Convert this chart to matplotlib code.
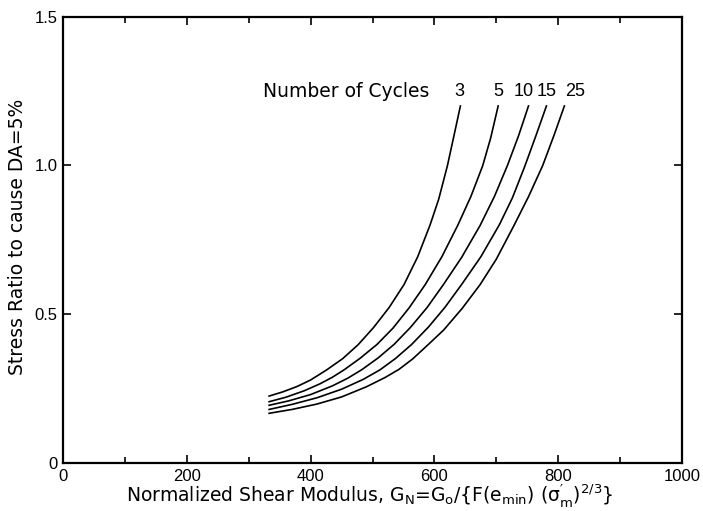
import matplotlib
matplotlib.use("Agg")
import matplotlib.pyplot as plt
from matplotlib.ticker import MultipleLocator

plt.rcParams['font.family'] = ['Liberation Sans', 'DejaVu Sans']
plt.rcParams['mathtext.default'] = 'regular'

# Curves: (G_N, stress ratio) for each number of cycles
cycles = ["3", "5", "10", "15", "25"]
gn_3 = [333, 355, 378, 400, 426, 452, 477, 502, 527, 551, 573, 593, 607, 621, 632, 642]
sr_3 = [0.225, 0.239, 0.257, 0.279, 0.313, 0.351, 0.398, 0.456, 0.523, 0.600, 0.693, 0.800, 0.887, 0.999, 1.104, 1.20]
gn_5 = [333, 360, 390, 415, 435, 454, 480, 507, 533, 559, 585, 612, 638, 659, 678, 691, 703]
sr_5 = [0.206, 0.221, 0.243, 0.266, 0.288, 0.313, 0.352, 0.398, 0.453, 0.521, 0.599, 0.693, 0.800, 0.896, 0.999, 1.093, 1.20]
gn_10 = [333, 365, 400, 435, 460, 483, 509, 535, 561, 588, 614, 644, 674, 697, 718, 736, 752]
sr_10 = [0.194, 0.209, 0.230, 0.259, 0.285, 0.314, 0.353, 0.399, 0.455, 0.522, 0.598, 0.691, 0.799, 0.896, 1.000, 1.100, 1.20]
gn_15 = [333, 370, 410, 450, 485, 512, 537, 563, 590, 617, 644, 675, 705, 726, 746, 764, 781]
sr_15 = [0.180, 0.197, 0.219, 0.248, 0.281, 0.313, 0.351, 0.398, 0.456, 0.523, 0.600, 0.693, 0.801, 0.891, 0.997, 1.100, 1.20]
gn_25 = [333, 370, 410, 450, 490, 520, 543, 565, 590, 615, 645, 674, 700, 729, 752, 775, 793, 810]
sr_25 = [0.167, 0.180, 0.198, 0.222, 0.256, 0.287, 0.315, 0.350, 0.398, 0.447, 0.520, 0.600, 0.685, 0.800, 0.895, 1.000, 1.100, 1.20]

series = [(gn_3, sr_3), (gn_5, sr_5), (gn_10, sr_10), (gn_15, sr_15), (gn_25, sr_25)]
label_x = [641, 703, 745, 781, 828]

xticks = [0, 200, 400, 600, 800, 1000]
yticks = [0, 0.5, 1.0, 1.5]
yticklabels = ["0", "0.5", "1.0", "1.5"]

fig = plt.figure(figsize=(7.03, 5.11), dpi=100)
ax = fig.add_axes([63/703, 48/511, (682-63)/703, (463-16.7)/511])

for gx, sy in series:
    ax.plot(gx, sy, color='black', lw=1.2, solid_joinstyle='round')

ax.set_xlim(0, 1000)
ax.set_ylim(0, 1.5)
ax.set_xticks(xticks)
ax.set_xticklabels([str(t) for t in xticks])
ax.xaxis.set_minor_locator(MultipleLocator(100))
ax.set_yticks(yticks)
ax.set_yticklabels(yticklabels)
ax.tick_params(which='both', direction='in', top=True, right=True, labelsize=12, width=1.2)
ax.tick_params(which='major', length=6, pad=4)
ax.tick_params(which='minor', length=4)
for s in ax.spines.values():
    s.set_linewidth(1.6)

lab_font = dict(family=['DejaVu Sans'], fontsize=13.5)
num_font = dict(family=['Liberation Sans'], fontsize=13)
ax.text(323, 1.247, "Number of Cycles", ha='left', va='center', **lab_font)
for lab, lx in zip(cycles, label_x):
    ax.text(lx, 1.247, lab, ha='center', va='center', **num_font)

ax.set_xlabel(r"Normalized Shear Modulus, G$_N$=G$_o$/{F(e$_{min}$) ($\sigma_m'$)$^{2/3}$}", **lab_font)
ax.xaxis.label.set_va('center')
ax.xaxis.set_label_coords(0.496, -0.073)
ax.set_ylabel("Stress Ratio to cause DA=5%", **lab_font)
ax.yaxis.label.set_va('center')
ax.yaxis.set_label_coords(-0.074, 0.507)

fig.savefig("out.png", dpi=100)
